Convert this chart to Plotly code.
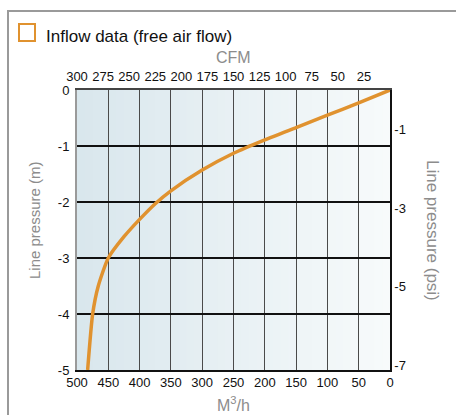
import plotly.graph_objects as go

# Data
flow_m3h = [0, 50, 100, 150, 200, 250, 300, 350, 375, 400, 425, 450, 466, 475, 483]
pressure_m = [0, -0.23, -0.45, -0.67, -0.89, -1.13, -1.43, -1.80, -2.03, -2.31, -2.62, -3.0, -3.5, -4.0, -5.0]

bottom_ticks = [500, 450, 400, 350, 300, 250, 200, 150, 100, 50, 0]
cfm_ticks = [300, 275, 250, 225, 200, 175, 150, 125, 100, 75, 50, 25]
left_ticks = [0, -1, -2, -3, -4, -5]
psi_ticks = [-1, -3, -5, -7]

W, H = 456, 415
L, R, T, B = 77, 66, 90, 45
PW, PH = W - L - R, H - T - B

def px(x):
    return (x - L) / PW

def py(y):
    return (H - B - y) / PH

TICKFONT = dict(family="Liberation Sans Narrow, Arial Narrow, Liberation Sans, Arial", size=13, color="#111")
GRAY = "#8c8c8c"

fig = go.Figure()
fig.add_trace(go.Scatter(x=flow_m3h, y=pressure_m, mode="lines",
                         line=dict(color="#e0922f", width=3.5, shape="spline", smoothing=0.6),
                         hoverinfo="skip", showlegend=False))
fig.add_trace(go.Scatter(x=[], y=[], xaxis="x2", yaxis="y2", showlegend=False))

shapes = []
# gradient background
n = 40
c0 = (217, 231, 237)
c1 = (247, 250, 251)
for i in range(n):
    t = i / (n - 1)
    c = tuple(round(c0[k] + (c1[k] - c0[k]) * t) for k in range(3))
    shapes.append(dict(type="rect", xref="paper", yref="paper", x0=i / n, x1=(i + 1) / n + 0.002,
                       y0=0, y1=1, fillcolor="rgb(%d,%d,%d)" % c, line=dict(width=0), layer="below"))
# outer frame
shapes.append(dict(type="rect", xref="paper", yref="paper", x0=px(8), x1=px(460), y0=py(11), y1=py(420),
                   line=dict(color="#9a9a9a", width=2), fillcolor="rgba(0,0,0,0)", layer="above"))
# legend square
shapes.append(dict(type="rect", xref="paper", yref="paper", x0=px(19), x1=px(35), y0=py(24), y1=py(41),
                   line=dict(color="#e0922f", width=2), fillcolor="rgba(0,0,0,0)", layer="above"))

annotations = [
    dict(text="Inflow data (free air flow)", xref="paper", yref="paper", x=px(44), y=py(36),
         xanchor="left", yanchor="middle", showarrow=False,
         font=dict(family="Liberation Sans, Arial", size=17, color="#111")),
    dict(text="CFM", xref="paper", yref="paper", x=0.5, y=py(58), xanchor="center", yanchor="middle",
         showarrow=False, font=dict(family="Liberation Sans, Arial", size=16, color=GRAY)),
    dict(text="M<sup>3</sup>/h", xref="paper", yref="paper", x=0.5, y=py(404), xanchor="center", yanchor="middle",
         showarrow=False, font=dict(family="Liberation Sans, Arial", size=16, color=GRAY)),
    dict(text="Line pressure (m)", xref="paper", yref="paper", x=px(34), y=py(220), textangle=-90,
         xanchor="center", yanchor="middle", showarrow=False,
         font=dict(family="Liberation Sans, Arial", size=15, color=GRAY)),
    dict(text="Line pressure (psi)", xref="paper", yref="paper", x=px(433), y=py(231), textangle=90,
         xanchor="center", yanchor="middle", showarrow=False,
         font=dict(family="Liberation Sans, Arial", size=17, color=GRAY)),
]

fig.update_layout(
    width=W, height=H,
    margin=dict(l=L, r=R, t=T, b=B, pad=0),
    paper_bgcolor="white",
    plot_bgcolor="#e8f0f3",
    shapes=shapes,
    annotations=annotations,
    xaxis=dict(range=[500, 0], tickvals=bottom_ticks, ticktext=[str(v) for v in bottom_ticks],
               showgrid=True, gridcolor="#4a4a4a", gridwidth=1, zeroline=False,
               showline=True, linecolor="#111", linewidth=1.5, ticks="", tickfont=TICKFONT,
               fixedrange=True),
    yaxis=dict(range=[-5, 0], tickvals=left_ticks, ticktext=[str(v) for v in left_ticks],
               showgrid=True, gridcolor="#111", gridwidth=1.5, zeroline=False,
               showline=True, linecolor="#9a9a9a", linewidth=2, ticks="", tickfont=TICKFONT,
               ticklabelstandoff=3, fixedrange=True),
    xaxis2=dict(range=[300, 0], overlaying="x", side="top", anchor="y", tickvals=cfm_ticks,
                ticktext=[str(v) for v in cfm_ticks], showgrid=False, zeroline=False,
                showline=True, linecolor="#444", linewidth=1.5, ticks="", tickfont=TICKFONT,
                ticklabelstandoff=2, fixedrange=True),
    yaxis2=dict(range=[-5 / 0.70307, 0], overlaying="y", side="right", anchor="x", tickvals=psi_ticks,
                ticktext=[str(v) for v in psi_ticks], showgrid=False, zeroline=False,
                showline=True, linecolor="#111", linewidth=1.5, ticks="", tickfont=TICKFONT,
                fixedrange=True),
    showlegend=False,
)

fig.write_html("out.html", config={"displayModeBar": False},
               post_script="document.body.style.margin='0';document.body.style.overflow='hidden';")
